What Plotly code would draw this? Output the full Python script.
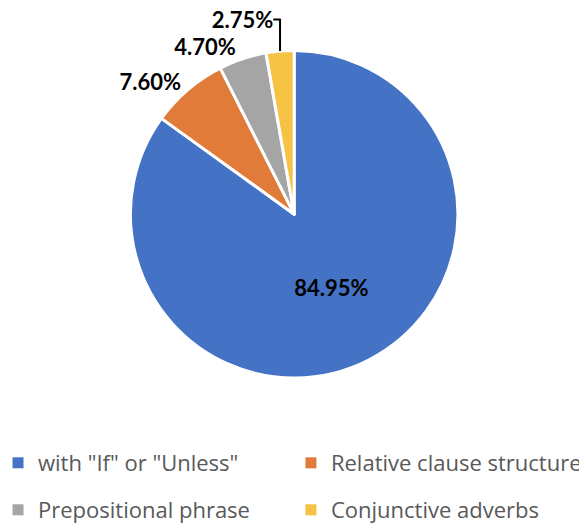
import plotly.graph_objects as go

labels = ['with "If" or "Unless"', "Relative clause structure", "Prepositional phrase", "Conjunctive adverbs"]
values = [84.95, 7.60, 4.70, 2.75]
text_labels = ["84.95%", "7.60%", "4.70%", "2.75%"]
colors = ["#4472C4", "#E07B39", "#A5A5A5", "#F5C243"]

lbl_font = dict(family="Lato", size=22, color="black", weight="bold")

fig = go.Figure()
fig.add_trace(go.Pie(
    labels=labels,
    values=values,
    text=text_labels,
    textinfo="text",
    textposition=["inside", "outside", "outside", "outside"],
    insidetextorientation="horizontal",
    sort=False,
    direction="clockwise",
    rotation=0,
    marker=dict(colors=colors, line=dict(color="white", width=3)),
    textfont=lbl_font,
    outsidetextfont=lbl_font,
    insidetextfont=lbl_font,
    showlegend=False,
    domain=dict(x=[0, 0.975], y=[0.294, 0.919]),
))

# one legend per category, arranged in a 2x2 grid below the pie
legend_names = ["legend", "legend2", "legend3", "legend4"]
for lab, col, lg in zip(labels, colors, legend_names):
    fig.add_trace(go.Scatter(
        x=[None], y=[None], mode="markers", name=lab,
        marker=dict(symbol="square", size=11, color=col),
        legend=lg,
        hoverinfo="skip",
    ))

leg_common = dict(
    orientation="h",
    xanchor="left",
    yanchor="middle",
    font=dict(family="Open Sans", size=22, color="#595959"),
    itemwidth=30,
    bgcolor="rgba(0,0,0,0)",
)

col_x = [-0.017, 0.482]
row_y = [1 - 455 / 524, 1 - 502 / 524]

fig.update_layout(
    width=587, height=524,
    margin=dict(l=0, r=0, t=0, b=0, autoexpand=False),
    paper_bgcolor="white",
    plot_bgcolor="white",
    showlegend=True,
    xaxis=dict(visible=False),
    yaxis=dict(visible=False),
    legend=dict(x=col_x[0], y=row_y[0], **leg_common),
    legend2=dict(x=col_x[1], y=row_y[0], **leg_common),
    legend3=dict(x=col_x[0], y=row_y[1], **leg_common),
    legend4=dict(x=col_x[1], y=row_y[1], **leg_common),
)

fig.write_html("out.html")
